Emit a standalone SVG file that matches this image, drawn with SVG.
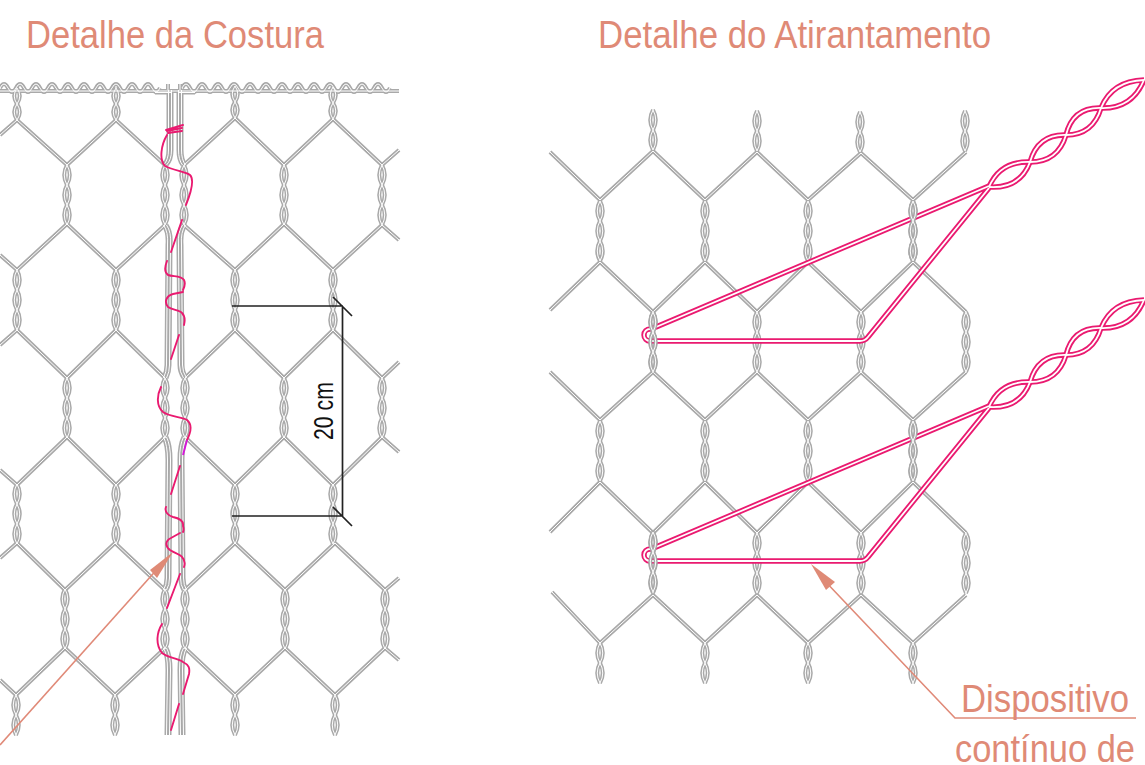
<svg xmlns="http://www.w3.org/2000/svg" width="1145" height="765" viewBox="0 0 1145 765">
<style>
.wo{fill:none;stroke:#a9a9a9;stroke-width:4;stroke-linejoin:round}
.wi{fill:none;stroke:#fff;stroke-width:1;stroke-linejoin:round}
.po{fill:none;stroke:#ea1a70;stroke-width:5.4;stroke-linejoin:round}
.pi{fill:none;stroke:#fff;stroke-width:1.8;stroke-linejoin:round}
.st{fill:none;stroke:#ea1a70;stroke-width:1.9;stroke-linecap:round}
.dim{fill:none;stroke:#222;stroke-width:1.7}
.lead{fill:none;stroke:#e08a78;stroke-width:1.6}
.ah{fill:#df8a76}
.t{font-family:"Liberation Sans",Arial,sans-serif;font-size:38px;fill:#df8a76}
.d{font-family:"Liberation Sans",Arial,sans-serif;font-size:28px;fill:#111}
</style>
<defs>
<g id="t60"><path d="M0,0q-5.500,10 0,20t0,20t0,20"/><path d="M0,0q5.500,10 0,20t0,20t0,20"/></g>
<g id="t40"><path d="M0,0q-5.500,10 0,20t0,20"/><path d="M0,0q5.500,10 0,20t0,20"/></g>
<g id="t32"><path d="M0,0q-5.500,8 0,16t0,16"/><path d="M0,0q5.500,8 0,16t0,16"/></g>
<path id="cL" d="M170,90L170,150Q170,160 165,165M165,225Q170,232 169,245L168,365Q168,372 165,378M165,437Q169,445 169,460L168,578Q168,585 165,590M165,648Q169,655 169,670L168,735"/>
<path id="cR" d="M180,90L180,150Q180,160 184,165M184,225Q179,232 180,245L181,365Q181,372 185,378M185,437Q181,445 181,460L182,578Q182,585 185,590M185,648Q181,655 181,670L182,735"/>
<g id="lm">
<path d="M0,135L17,120L67,165L116,120L165,165M184,165L235,118L284,165L333,119L382,165L399,150"/>
<path d="M0,255L17,270L67,224L116,270L165,225M184,225L235,270L284,224L333,270L382,225L399,240"/>
<path d="M0,345L17,330L67,378L116,330L165,378M185,378L235,330L284,378L333,330L382,378L399,362"/>
<path d="M0,470L17,485L67,437L116,485L165,437M185,437L235,485L284,437L333,485L382,437L399,452"/>
<path d="M0,558L17,543L65,590L115,543L165,590M185,590L235,543L285,590L335,543L385,590L399,578"/>
<path d="M0,680L16,695L65,648L115,695L165,648M185,648L235,695L285,648L335,695L385,648L399,660"/>
<use href="#cL" x="-1.500"/><use href="#cL" x="1.500"/><use href="#cR" x="-1.500"/><use href="#cR" x="1.500"/>
<use href="#t32" x="17" y="88"/><use href="#t32" x="116" y="88"/><use href="#t32" x="235" y="86"/><use href="#t32" x="333" y="87"/>
<use href="#t60" x="67" y="165"/><use href="#t60" x="165" y="165"/><use href="#t60" x="184" y="165"/><use href="#t60" x="284" y="165"/><use href="#t60" x="382" y="165"/>
<use href="#t60" x="17" y="270"/><use href="#t60" x="116" y="270"/><use href="#t60" x="235" y="270"/><use href="#t60" x="333" y="270"/>
<use href="#t60" x="67" y="378"/><use href="#t60" x="165" y="378"/><use href="#t60" x="185" y="378"/><use href="#t60" x="284" y="378"/><use href="#t60" x="382" y="378"/>
<use href="#t60" x="17" y="484"/><use href="#t60" x="116" y="484"/><use href="#t60" x="235" y="484"/><use href="#t60" x="333" y="484"/>
<use href="#t60" x="65" y="589"/><use href="#t60" x="165" y="589"/><use href="#t60" x="185" y="589"/><use href="#t60" x="285" y="589"/><use href="#t60" x="385" y="589"/>
<use href="#t40" x="16" y="695"/><use href="#t40" x="115" y="695"/><use href="#t40" x="235" y="695"/><use href="#t40" x="335" y="695"/>
<path d="M0,91L399,91"/>
<path d="M155,92.500L172,92.500M178,92.500L195,92.500"/>
<path d="M0,88q4,-8 8,0t8,0t8,0t8,0t8,0t8,0t8,0t8,0t8,0t8,0t8,0t8,0t8,0t8,0t8,0t8,0t8,0t8,0t8,0t8,0M168,90L168,84M180,90L180,84M182,88q4,-8 8,0t8,0t8,0t8,0t8,0t8,0t8,0t8,0t8,0t8,0t8,0t8,0t8,0t8,0t8,0t8,0t8,0t8,0t8,0t8,0t8,0t8,0t8,0t8,0t8,0t8,0"/>
</g>
<g id="rm">
<path d="M550,152L600,200L653,151L705,200L757,152L808,200L861,153L913,200L966,152"/>
<path d="M550,310L600,262L653,312L705,262L757,312L808,262L861,312L913,262L966,312"/>
<path d="M550,532L600,482L653,533L705,482L757,533L808,482L861,533L913,482L966,533"/>
<path d="M550,372L600,420L653,372L705,420L757,372L808,420L861,372L913,420L966,372"/>
<path d="M552,592L600,643L653,595L705,643L757,595L808,643L861,595L913,643L966,595"/>
<use href="#t40" x="653" y="110"/><use href="#t40" x="757" y="111"/><use href="#t40" x="860" y="112"/><use href="#t40" x="965" y="111"/>
<use href="#t60" x="600" y="201"/><use href="#t60" x="705" y="201"/><use href="#t60" x="808" y="201"/><use href="#t60" x="913" y="201"/>
<use href="#t60" x="653" y="312"/><use href="#t60" x="757" y="312"/><use href="#t60" x="861" y="312"/><use href="#t60" x="966" y="312"/>
<use href="#t60" x="600" y="421"/><use href="#t60" x="705" y="421"/><use href="#t60" x="808" y="421"/><use href="#t60" x="913" y="421"/>
<use href="#t60" x="653" y="533"/><use href="#t60" x="757" y="533"/><use href="#t60" x="861" y="533"/><use href="#t60" x="966" y="533"/>
<use href="#t40" x="600" y="643"/><use href="#t40" x="705" y="643"/><use href="#t40" x="808" y="643"/><use href="#t40" x="913" y="643"/>
</g>
<g id="dv">
<path d="M989,186L656,327L650,329A6,6 0 0 0 650,341L860,341Q865,341 868,337L989,188"/>
<path d="M989,187Q1000,161 1030,162Q1058,162 1066,135Q1073,107 1101,108Q1132,109 1144,80"/>
<path d="M989,187Q1020,189 1030,162Q1038,134 1066,135Q1093,135 1101,108Q1112,81 1144,80"/>
</g>
<g id="tw2"><use href="#t60" x="913" y="201"/><use href="#t60" x="653" y="312"/></g>
</defs>

<g id="title-left"><text class="t" x="26" y="48" textLength="298" lengthAdjust="spacingAndGlyphs">Detalhe da Costura</text></g>
<g id="title-right"><text class="t" x="598" y="48" textLength="393" lengthAdjust="spacingAndGlyphs">Detalhe do Atirantamento</text></g>

<g id="mesh-left"><use href="#lm" class="wo"/><use href="#lm" class="wi"/></g>

<g id="stitch">
<path class="st" d="M166,130L183,125M167,131L182,128M168,133L182,131"/>
<path class="st" d="M167,135C161,145 159,160 165,166C172,170 186,172 190,175C195,180 190,195 186,205M182,220L171,252M167,261C165,266 164,272 168,275C173,277 181,275 184,280C186,284 184,288 183,290M183,292L173,294C166,296 164,302 168,307C172,310 180,310 182,313C185,316 185,321 184,325M179,335L171,359M161,387C157,395 156,406 163,412C170,417 182,417 187,420C192,424 191,432 187,440M180,466L171,494M166,507C164,512 169,516 173,517C178,518 184,520 183,526C184,529 184,530 183,532M180,533L171,538C165,541 165,546 170,550C174,553 180,554 182,557C185,560 185,564 184,567M180,574L167,608M162,624C157,632 155,644 162,653C168,658 178,658 183,662C189,665 190,668 189,674L183,694M179,704L171,730"/>
<path d="M187,440L183,455" fill="none" stroke="#d516d8" stroke-width="1.9"/>
</g>

<g id="dimension">
<path class="dim" d="M232,306L343,306M232,516L343,516M342.500,306L342.500,516M333,297L352,316M333,507L352,526"/>
<text class="d" transform="translate(333,440) rotate(-90)" textLength="58" lengthAdjust="spacingAndGlyphs">20 cm</text>
</g>

<g id="mesh-right"><use href="#rm" class="wo"/><use href="#rm" class="wi"/></g>

<g id="device-1"><use href="#dv" class="po"/><use href="#dv" class="pi"/><use href="#tw2" class="wo"/><use href="#tw2" class="wi"/></g>
<g id="device-2" transform="translate(0,220)"><use href="#dv" class="po"/><use href="#dv" class="pi"/><use href="#tw2" class="wo"/><use href="#tw2" class="wi"/></g>

<g id="connectors">
<path class="lead" d="M0,745L160,566"/>
<polygon class="ah" points="173,552 157,578 150,570"/>
<path class="lead" d="M822,578L955,718L1136,718"/>
<polygon class="ah" points="811,564 835,582 826,590"/>
</g>

<g id="label"><text class="t" x="961" y="712" textLength="168" lengthAdjust="spacingAndGlyphs">Dispositivo</text>
<text class="t" x="955" y="762" textLength="180" lengthAdjust="spacingAndGlyphs">contínuo de</text></g>
</svg>
